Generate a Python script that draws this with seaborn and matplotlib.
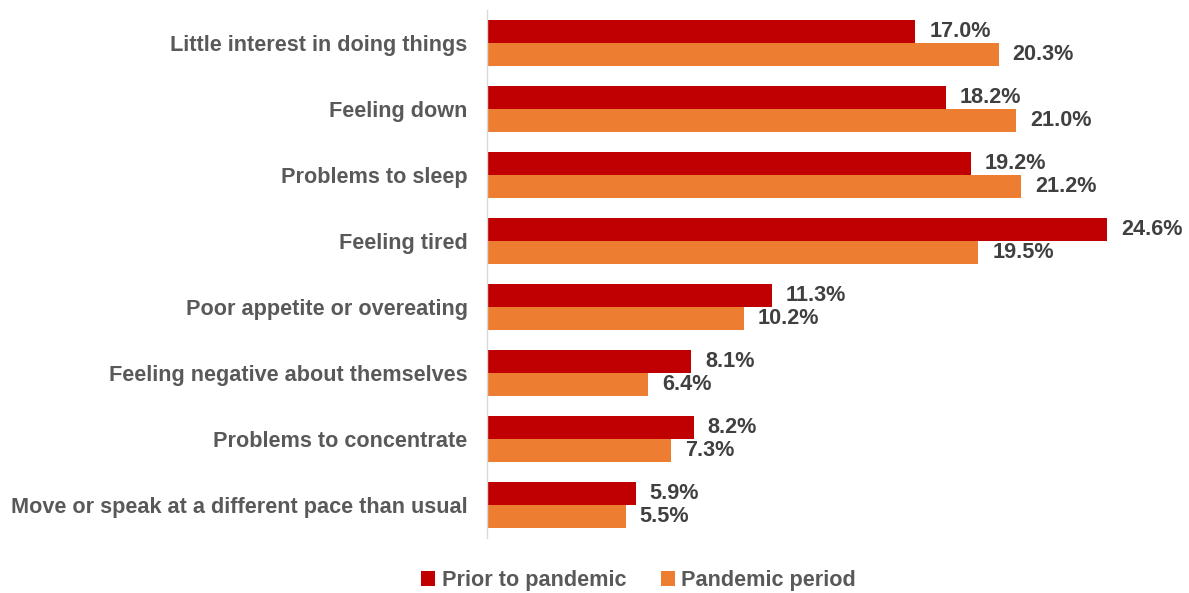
import matplotlib
matplotlib.use("Agg")
import matplotlib.pyplot as plt
import seaborn as sns
import pandas as pd

categories = [
    "Little interest in doing things",
    "Feeling down",
    "Problems to sleep",
    "Feeling tired",
    "Poor appetite or overeating",
    "Feeling negative about themselves",
    "Problems to concentrate",
    "Move or speak at a different pace than usual",
]
prior = [17.0, 18.2, 19.2, 24.6, 11.3, 8.1, 8.2, 5.9]
pandemic = [20.3, 21.0, 21.2, 19.5, 10.2, 6.4, 7.3, 5.5]
series = ["Prior to pandemic", "Pandemic period"]
colors = ["#C00000", "#ED7D31"]

df = pd.DataFrame({
    "category": categories * 2,
    "value": prior + pandemic,
    "series": [series[0]] * len(categories) + [series[1]] * len(categories),
})

sns.set_theme(style="white")
plt.rcParams["font.family"] = ["Liberation Sans", "DejaVu Sans"]

fig = plt.figure(figsize=(11.89, 5.93), dpi=100)
ax = fig.add_axes([487 / 1189, (593 - 538) / 593, (1180 - 487) / 1189, 528 / 593])

sns.barplot(data=df, x="value", y="category", hue="series", orient="h",
            palette=colors, width=0.71, saturation=1, ax=ax, legend=True,
            linewidth=0)

ax.set_xlim(0, 27.5)
ax.set_xlabel("")
ax.set_ylabel("")
ax.set_xticks([])
for s in ["top", "right", "bottom"]:
    ax.spines[s].set_visible(False)
ax.spines["left"].set_color("#D9D9D9")
ax.spines["left"].set_linewidth(1)
ax.tick_params(axis="y", length=0, pad=14)
for lab in ax.get_yticklabels():
    lab.set_fontsize(15.6)
    lab.set_fontweight("bold")
    lab.set_color("#595959")

for cont in ax.containers:
    ax.bar_label(cont, labels=[f"{v:.1f}%" for v in cont.datavalues],
                 padding=10, fontsize=15.6, fontweight="bold", color="#404040")

leg = ax.get_legend()
handles, labels = ax.get_legend_handles_labels()
leg.remove()
fig.legend(handles, labels, loc="center", bbox_to_anchor=(0.537, 0.021),
           ncol=2, frameon=False, handlelength=0.65, handleheight=0.65,
           handletextpad=0.3, columnspacing=1.6,
           prop={"size": 15.6, "weight": "bold"}, labelcolor="#595959")

fig.savefig("out.png", dpi=100)
